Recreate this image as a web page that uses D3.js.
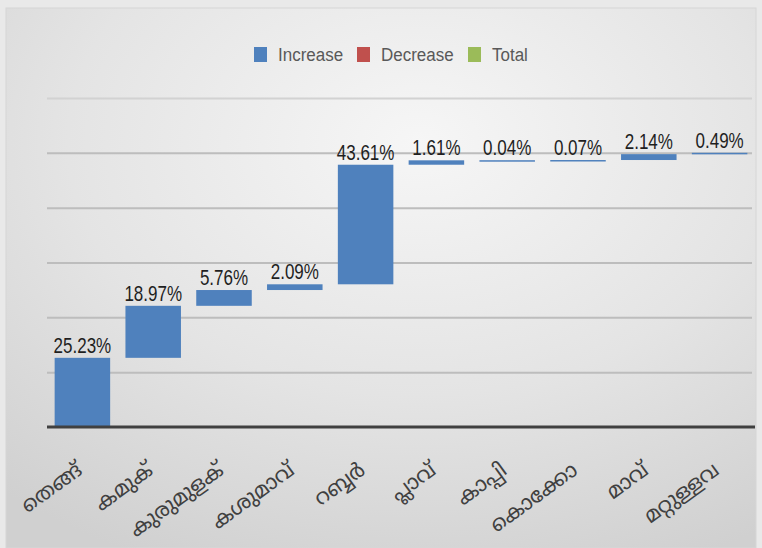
<!DOCTYPE html>
<html>
<head>
<meta charset="utf-8">
<script src="https://cdn.jsdelivr.net/npm/d3@7"></script>
<style>
  html, body { margin: 0; padding: 0; background: #ececec; }
  svg { display: block; }
</style>
</head>
<body>
<svg id="chart" width="762" height="548"></svg>
<script>
// Crop share of cultivated area (%), shown as a waterfall
const categories = ["തെങ്ങ്", "കമുക്", "കുരുമുളക്", "കശുമാവ്", "റബ്ബർ", "പ്ലാവ്", "കാപ്പി", "കൊക്കോ", "മാവ്", "മറ്റുള്ളവ"];
const values = [25.23, 18.97, 5.76, 2.09, 43.61, 1.61, 0.04, 0.07, 2.14, 0.49];
const yTicks = [0, 20, 40, 60, 80, 100, 120];
const legendItems = ["Increase", "Decrease", "Total"];
const legendColors = ["#4f81bd", "#c0504d", "#9bbb59"];

const W = 762, H = 548;
const svg = d3.select("#chart");

// background panel with soft gradient
const defs = svg.append("defs");
const grad = defs.append("radialGradient")
  .attr("id", "bg").attr("cx", "55%").attr("cy", "25%").attr("r", "85%");
grad.append("stop").attr("offset", "0%").attr("stop-color", "#f6f6f6");
grad.append("stop").attr("offset", "55%").attr("stop-color", "#e4e4e4");
grad.append("stop").attr("offset", "100%").attr("stop-color", "#d0d0d0");

svg.append("rect").attr("x", 0).attr("y", 0).attr("width", W).attr("height", H).attr("fill", "#e9e9e9");
svg.append("rect").attr("x", 6).attr("y", 8).attr("width", W - 12).attr("height", H - 8)
  .attr("fill", "url(#bg)").attr("stroke", "#d6d6d6").attr("stroke-width", 1);

// running totals for waterfall steps
let run = 0;
const steps = values.map((v, i) => {
  const start = run;
  run += v;
  return { cat: categories[i], value: v, start, end: run };
});

const x = d3.scaleBand().domain(categories).range([47, 755]).paddingInner(0.216).paddingOuter(0.108);
const y = d3.scaleLinear().domain([0, 120]).range([427, 98]);

// gridlines
svg.append("g")
  .attr("transform", "translate(47,0)")
  .call(d3.axisLeft(y).tickValues(yTicks.slice(1)).tickSize(-(752 - 47)).tickFormat(""))
  .call(g => g.select(".domain").remove())
  .call(g => g.selectAll(".tick line")
    .attr("stroke", d => d === 120 ? "#d2d2d2" : "#bdbdbd")
    .attr("stroke-width", 2));

// bars
svg.append("g").selectAll("rect")
  .data(steps)
  .join("rect")
  .attr("x", d => x(d.cat))
  .attr("width", x.bandwidth())
  .attr("y", d => y(d.end))
  .attr("height", d => Math.max(1.5, y(d.start) - y(d.end)))
  .attr("fill", legendColors[0]);

// value labels
svg.append("g").selectAll("text")
  .data(steps)
  .join("text")
  .attr("transform", d => `translate(${x(d.cat) + x.bandwidth() / 2},${y(d.end) - 5}) scale(1,1.25)`)
  .attr("text-anchor", "middle")
  .attr("font-family", "'Liberation Sans', Arial, sans-serif")
  .attr("font-size", 17)
  .attr("fill", "#1f1f1f")
  .text(d => d.value.toFixed(2) + "%");

// baseline axis with category labels
const xAxis = svg.append("g")
  .attr("transform", `translate(0,${y(0)})`)
  .call(d3.axisBottom(x).tickSize(0).tickPadding(0));
xAxis.select(".domain").attr("stroke", "#404040").attr("stroke-width", 3)
  .attr("d", `M47,0H755`);
xAxis.selectAll(".tick text")
  .attr("font-family", "'Noto Sans Malayalam', 'Noto Sans', sans-serif")
  .attr("font-size", 21)
  .attr("fill", "#404040")
  .attr("text-anchor", "end")
  .attr("dy", 0)
  .attr("transform", "translate(1,46) rotate(-36)");

// legend
const legend = svg.append("g");
const legendX = [254, 357, 468];
legendItems.forEach((name, i) => {
  legend.append("rect").attr("x", legendX[i]).attr("y", 47).attr("width", 13).attr("height", 15)
    .attr("fill", legendColors[i]);
  legend.append("text")
    .attr("transform", `translate(${legendX[i] + 24},61) scale(1,1.12)`)
    .attr("font-family", "'Liberation Sans', Arial, sans-serif")
    .attr("font-size", 17).attr("fill", "#595959").text(name);
});
</script>
</body>
</html>
